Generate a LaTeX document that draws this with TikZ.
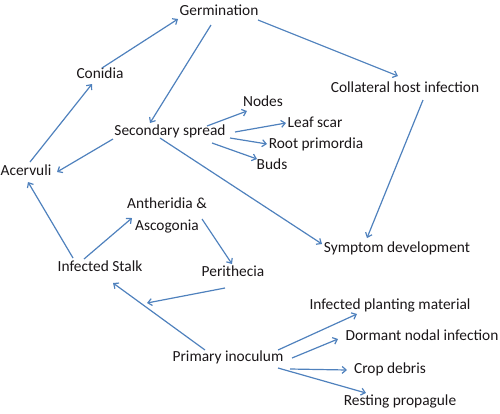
\documentclass[tikz,border=0pt]{standalone}
\usepackage{fontspec}
\setmainfont{Carlito}
\usetikzlibrary{arrows.meta}
\definecolor{arrowblue}{HTML}{4F81BD}
\definecolor{txt}{HTML}{1A1618}
\begin{document}
\begin{tikzpicture}[x=1pt,y=-1pt,
  lbl/.style={font=\fontsize{15.4}{22}\selectfont, text=txt, inner sep=0pt, text height=10pt, text depth=3pt},
  lbl2/.style={font=\fontsize{15.4}{22}\selectfont, text=txt, inner sep=0pt, align=center},
  conn/.style={draw=arrowblue, line width=1.2pt, -{Straight Barb[length=4pt,width=7pt]}}]
\useasboundingbox (0,0) rectangle (500,413);
\node[lbl] (germ)  at (219,12)  {Germination};
\node[lbl] (con)   at (100,75)  {Conidia};
\node[lbl] (coll)  at (405,89)  {Collateral host infection};
\node[lbl] (nodes) at (263,103) {Nodes};
\node[lbl] (sec)   at (170,132) {Secondary spread};
\node[lbl] (leaf)  at (315,124) {Leaf scar};
\node[lbl] (root)  at (316,145) {Root primordia};
\node[lbl] (buds)  at (272,166) {Buds};
\node[lbl] (acer)  at (26,172)  {Acervuli};
\node[lbl2] (anth) at (167,215) {Antheridia \&\\Ascogonia};
\node[lbl] (symp)  at (397,249) {Symptom development};
\node[lbl] (stalk) at (100,268) {Infected Stalk};
\node[lbl] (peri)  at (233,273) {Perithecia};
\node[lbl] (ipm)   at (390,306) {Infected planting material};
\node[lbl] (dni)   at (422,337) {Dormant nodal infection};
\node[lbl] (prim)  at (228,358) {Primary inoculum};
\node[lbl] (crop)  at (390,370) {Crop debris};
\node[lbl] (rest)  at (400,402) {Resting propagule};
\coordinate (meet) at (147,303);

\draw[conn] ([shift={(2,-7)}]con.center) -- ([shift={(-41,7)}]germ.center);
\draw[conn] ([shift={(-8,13)}]germ.center) -- ([shift={(-20,-9)}]sec.center);
\draw[conn] ([shift={(39,8)}]germ.center) -- ([shift={(-7,-13)}]coll.center);
\draw[conn] ([shift={(-57,7)}]sec.center) -- ([shift={(31,0)}]acer.center);
\draw[conn] ([shift={(4,-10)}]acer.center) -- ([shift={(-8,9)}]con.center);
\draw[conn] ([shift={(-27,-10)}]stalk.center) -- ([shift={(2,10)}]acer.center);
\draw[conn] ([shift={(37,-6)}]sec.center) -- ([shift={(-16,8)}]nodes.center);
\draw[conn] ([shift={(65,0)}]sec.center) -- ([shift={(-29,-1)}]leaf.center);
\draw[conn] ([shift={(60,6)}]sec.center) -- ([shift={(-49,-1)}]root.center);
\draw[conn] ([shift={(42,11)}]sec.center) -- ([shift={(-15,-7)}]buds.center);
\draw[conn] ([shift={(-10,6)}]sec.center) -- ([shift={(-75,-5)}]symp.center);
\draw[conn] ([shift={(18,11)}]coll.center) -- ([shift={(-30,-11)}]symp.center);
\draw[conn] ([shift={(-16,-9)}]stalk.center) -- ([shift={(-35,3)}]anth.center);
\draw[conn] ([shift={(35,4)}]anth.center) -- ([shift={(-1,-9)}]peri.center);
\draw[conn] ([shift={(-8,15)}]peri.center) -- (meet);
\draw[conn] ([shift={(-23,-8)}]prim.center) -- ([shift={(13,15)}]stalk.center);
\draw[conn] ([shift={(50,-8)}]prim.center) -- ([shift={(-33,8)}]ipm.center);
\draw[conn] ([shift={(64,0)}]prim.center) -- ([shift={(-84,2)}]dni.center);
\draw[conn] ([shift={(62,11)}]prim.center) -- ([shift={(-43,0)}]crop.center);
\draw[conn] ([shift={(50,10)}]prim.center) -- ([shift={(-34,-9)}]rest.center);
\end{tikzpicture}
\end{document}
